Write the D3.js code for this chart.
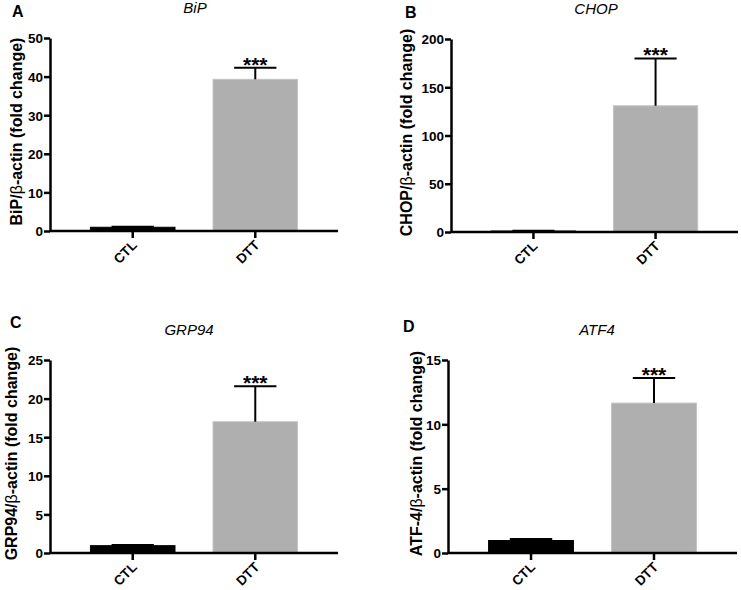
<!DOCTYPE html>
<html>
<head>
<meta charset="utf-8">
<script src="https://cdn.jsdelivr.net/npm/d3@7"></script>
<style>
  body { margin: 0; background: #fff; }
  svg { font-family: "Liberation Sans", Arial, Helvetica, sans-serif; }
  .axis path, .axis line { stroke: #000; stroke-width: 2.5; }
  .axis text { font-size: 13.5px; font-weight: bold; fill: #000; }
</style>
</head>
<body>
<svg id="fig" width="741" height="590"></svg>
<script>
// data
var groups = ["CTL", "DTT"]
var genes = ["BiP", "CHOP", "GRP94", "ATF4"]
var letters = ["A", "B", "C", "D"]
var yNames = ["BiP", "CHOP", "GRP94", "ATF-4"]
var yMax = [50, 200, 25, 15]
var yStep = [10, 50, 5, 5]
var ctlMean = [0.97, 1.0, 0.95, 0.97]
var ctlSem = [0.15, 0.3, 0.1, 0.12]
var dttMean = [39.3, 130.8, 17.0, 11.65]
var dttSem = [3.0, 49.0, 4.6, 1.95]
var sigLabels = ["***", "***", "***", "***"]

// panel frames (pixel layout, not data)
var frames = [
  { x0: 50, x1: 338, yTop: 38, yBot: 231, titleX: 195, titleY: 13, letX: 12, letY: 17, labX: 22 },
  { x0: 451, x1: 738, yTop: 39, yBot: 232, titleX: 596, titleY: 14, letX: 405, letY: 18, labX: 412 },
  { x0: 50, x1: 338, yTop: 360, yBot: 553, titleX: 189, titleY: 335, letX: 10, letY: 328, labX: 17 },
  { x0: 448, x1: 737, yTop: 360, yBot: 553, titleX: 597, titleY: 335, letX: 403, letY: 332, labX: 422 }
]
var barColors = { CTL: "#000", DTT: "#afafb0" }

var svg = d3.select("#fig")

genes.forEach(function (gene, i) {
  var f = frames[i]
  var rows = [
    { g: "CTL", mean: ctlMean[i], sem: ctlSem[i], sig: "" },
    { g: "DTT", mean: dttMean[i], sem: dttSem[i], sig: sigLabels[i] }
  ]
  var x = d3.scaleBand().domain(groups).range([f.x0, f.x1])
    .paddingInner(0.31).paddingOuter(0.33)
  var y = d3.scaleLinear().domain([0, yMax[i]]).range([f.yBot, f.yTop])
  var g = svg.append("g")

  // bars
  g.selectAll(".bar").data(rows).enter().append("rect")
    .attr("x", function (d) { return x(d.g) })
    .attr("width", x.bandwidth())
    .attr("y", function (d) { return y(d.mean) })
    .attr("height", function (d) { return y(0) - y(d.mean) })
    .style("fill", function (d) { return barColors[d.g] })
    .style("stroke", function (d) { return d.g == "DTT" ? "#c4c4c4" : "#000" })
    .style("stroke-width", 1)

  // error bars (upper only)
  var cap = x.bandwidth() / 2
  rows.forEach(function (d) {
    var cx = x(d.g) + x.bandwidth() / 2
    g.append("line")
      .attr("x1", cx).attr("x2", cx)
      .attr("y1", y(d.mean)).attr("y2", y(d.mean + d.sem))
      .style("stroke", "#000").style("stroke-width", 2)
    g.append("line")
      .attr("x1", cx - cap / 2).attr("x2", cx + cap / 2)
      .attr("y1", y(d.mean + d.sem)).attr("y2", y(d.mean + d.sem))
      .style("stroke", "#000").style("stroke-width", 2)
    if (d.sig) {
      g.append("text")
        .attr("x", cx).attr("y", y(d.mean + d.sem) + 4)
        .attr("text-anchor", "middle")
        .style("font-size", "21px").style("font-weight", "bold")
        .text(d.sig)
    }
  })

  // axes
  var ya = g.append("g").attr("class", "axis")
    .attr("transform", "translate(" + f.x0 + ",0)")
    .call(d3.axisLeft(y).tickValues(d3.range(0, yMax[i] + 0.001, yStep[i]))
      .tickSize(6).tickSizeOuter(0).tickPadding(1))
  ya.selectAll("text").attr("dy", "0.36em")

  var xa = g.append("g").attr("class", "axis")
    .attr("transform", "translate(0," + f.yBot + ")")
    .call(d3.axisBottom(x).tickSize(7).tickSizeOuter(0).tickFormat(""))
  xa.select(".domain").attr("d", "M" + f.x0 + ",0H" + f.x1)

  // rotated category labels
  g.selectAll(".xlab").data(groups).enter().append("text")
    .attr("class", "xlab")
    .attr("text-anchor", "end")
    .attr("transform", function (d) {
      return "translate(" + (x(d) + x.bandwidth() / 2 + 5) + "," + (f.yBot + 15) + ") rotate(-45)"
    })
    .style("font-size", "13.5px").style("font-weight", "bold")
    .text(function (d) { return d })

  // y label
  var lab = g.append("text")
    .attr("transform", "translate(" + f.labX + "," + ((f.yTop + f.yBot) / 2 - 3) + ") rotate(-90)")
    .attr("text-anchor", "middle")
    .style("font-size", "16px").style("font-weight", "bold")
  lab.append("tspan").text(yNames[i] + "/")
  lab.append("tspan").style("font-weight", "normal").text("β")
  lab.append("tspan").text("-actin (fold change)")

  // title and panel letter
  g.append("text")
    .attr("x", f.titleX).attr("y", f.titleY)
    .attr("text-anchor", "middle")
    .style("font-size", "15px").style("font-style", "italic")
    .text(gene)
  g.append("text")
    .attr("x", f.letX).attr("y", f.letY)
    .style("font-size", "16px").style("font-weight", "bold")
    .text(letters[i])
})
</script>
</body>
</html>
